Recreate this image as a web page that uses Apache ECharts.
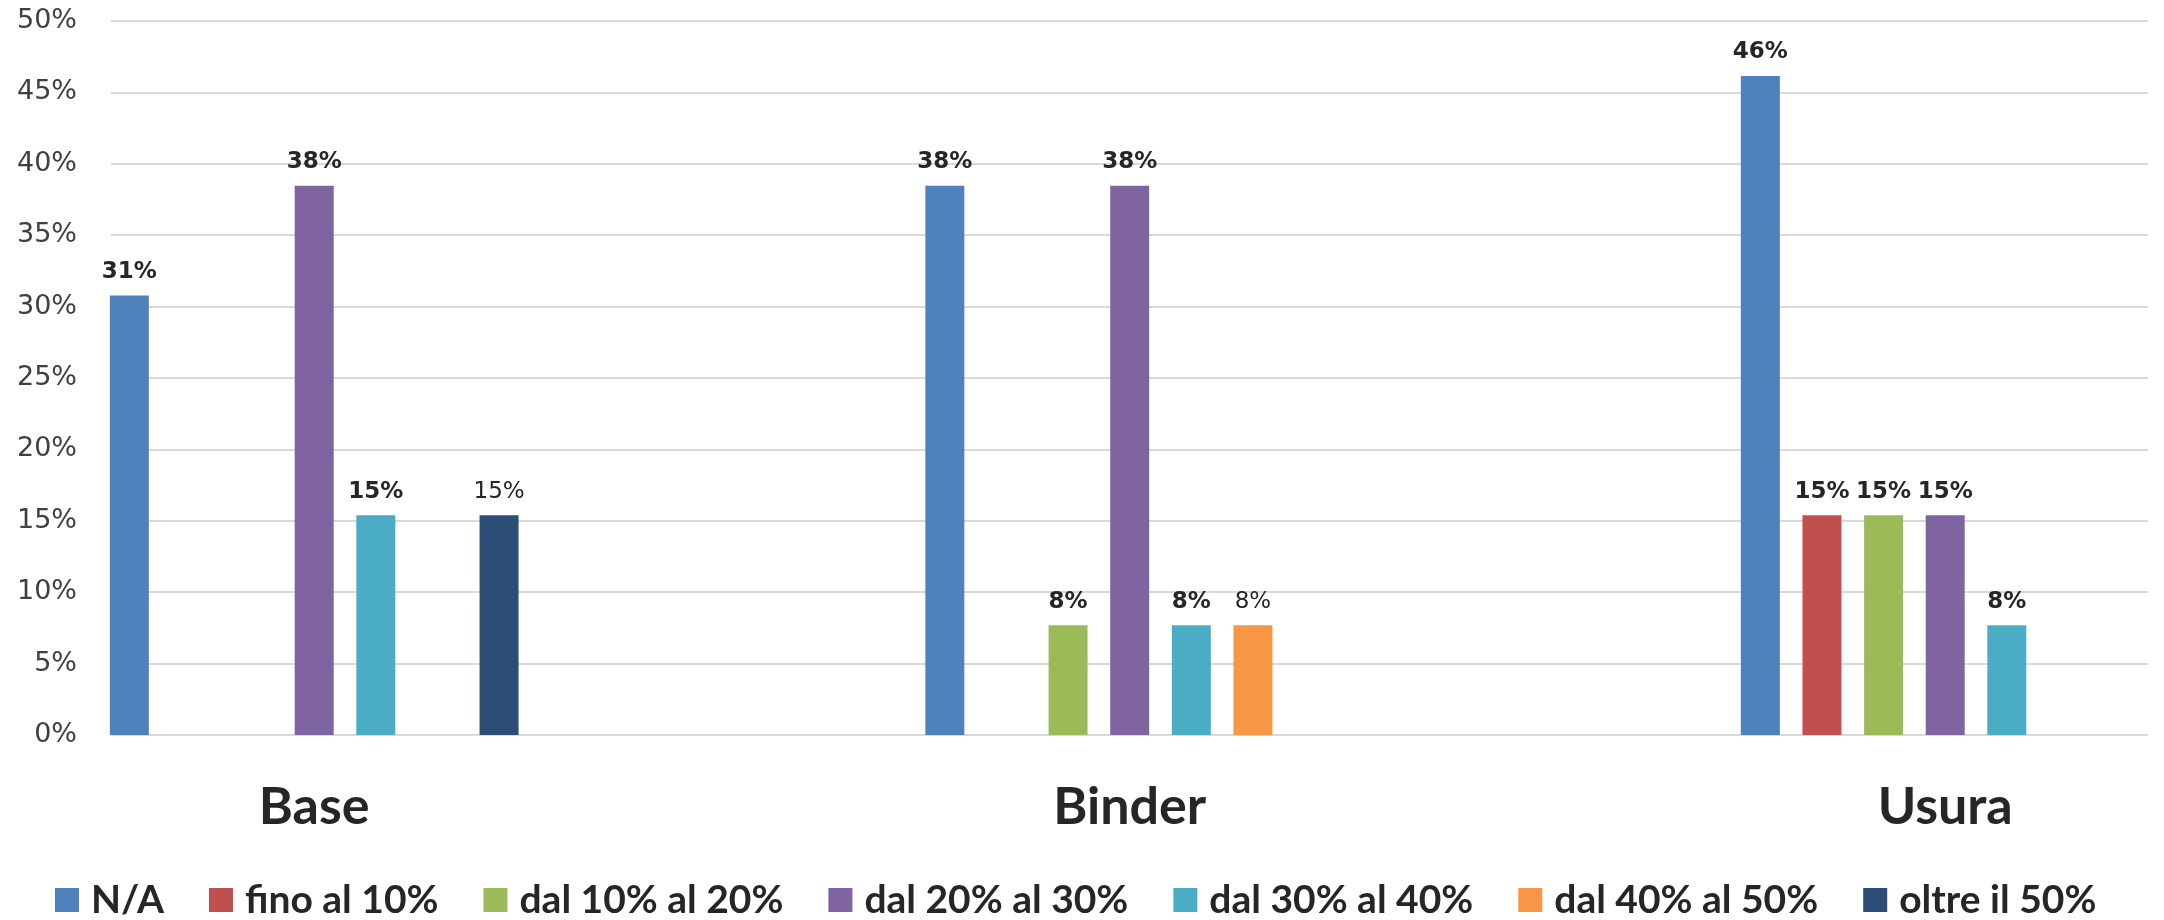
<!DOCTYPE html>
<html>
<head>
<meta charset="utf-8">
<title>Distribuzione per strato</title>
<script src="https://cdn.jsdelivr.net/npm/echarts@6/dist/echarts.min.js"></script>
<style>
  html, body { margin: 0; padding: 0; background: #ffffff; }
  #chart { width: 2164px; height: 920px; }
</style>
</head>
<body>
<div id="chart"></div>
<script>
// Layers (categories) and the answer share per class, in percent
const categories = ['Base', 'Binder', 'Usura'];

const seriesNames = [
  'N/A',
  'fino al 10%',
  'dal 10% al 20%',
  'dal 20% al 30%',
  'dal 30% al 40%',
  'dal 40% al 50%',
  'oltre il 50%'
];

const naValues      = [30.77, 38.46, 46.15];
const fino10Values  = [null, null, 15.38];
const dal10Values   = [null, 7.69, 15.38];
const dal20Values   = [38.46, 38.46, 15.38];
const dal30Values   = [15.38, 7.69, 7.69];
const dal40Values   = [null, 7.69, null];
const oltre50Values = [15.38, null, null];

const yTicks = [0, 5, 10, 15, 20, 25, 30, 35, 40, 45, 50];

const seriesValues = [naValues, fino10Values, dal10Values, dal20Values,
                      dal30Values, dal40Values, oltre50Values];

const colors = ['#4F81BD', '#C0504D', '#9BBB59', '#8064A2', '#4BACC6', '#F79646', '#2C4D75'];
// the last two classes carry regular-weight value labels
const labelWeights = ['bold', 'bold', 'bold', 'bold', 'bold', 'normal', 'normal'];

const PLOT_TOP = 21;
const PLOT_HEIGHT = 714;
const BAND = 815.5;            // width of one category band
const FIRST_CENTER = 314.2;    // centre of the first group

const chart = echarts.init(document.getElementById('chart'), null, { renderer: 'canvas' });

const series = seriesNames.map((name, i) => ({
  name: name,
  type: 'bar',
  xAxisIndex: 1,
  yAxisIndex: 1,
  data: seriesValues[i].map(v => (v === null ? '-' : v)),
  barWidth: 39,
  barGap: '58%',
  itemStyle: { color: colors[i] },
  label: {
    show: true,
    position: 'top',
    distance: 12,
    fontFamily: 'DejaVu Sans',
    fontSize: 23,
    fontWeight: labelWeights[i],
    color: '#262626',
    formatter: p => Math.round(p.value) + '%'
  }
}));

const option = {
  animation: false,
  backgroundColor: '#ffffff',
  color: colors,
  grid: [
    // visible value scale with gridlines
    { left: 111, top: PLOT_TOP, width: 2037, height: PLOT_HEIGHT, outerBoundsMode: 'none' },
    // bar layout grid, wider than the page so groups sit at their centres
    { left: FIRST_CENTER - BAND / 2, top: PLOT_TOP, width: BAND * 3, height: PLOT_HEIGHT,
      outerBoundsMode: 'none' }
  ],
  xAxis: [
    {
      gridIndex: 0, type: 'category', data: categories,
      axisLine: { show: false }, axisTick: { show: false }, axisLabel: { show: false }
    },
    {
      gridIndex: 1, type: 'category', data: categories,
      axisLine: { show: false }, axisTick: { show: false },
      axisLabel: {
        margin: 46,
        fontFamily: 'Lato',
        fontWeight: 'bold',
        fontSize: 52,
        lineHeight: 52,
        color: '#262626'
      }
    }
  ],
  yAxis: [
    {
      gridIndex: 0, type: 'value',
      min: yTicks[0], max: yTicks[yTicks.length - 1], interval: 5,
      axisLine: { show: false }, axisTick: { show: false },
      splitLine: { show: true, lineStyle: { color: '#D9D9D9', width: 2 } },
      axisLabel: {
        margin: 34,
        fontFamily: 'DejaVu Sans',
        fontSize: 27,
        color: '#404040',
        formatter: '{value}%'
      }
    },
    {
      gridIndex: 1, type: 'value',
      min: yTicks[0], max: yTicks[yTicks.length - 1], interval: 5,
      show: false, splitLine: { show: false }
    }
  ],
  legend: {
    data: seriesNames,
    left: 55,
    top: 880,
    padding: 0,
    icon: 'rect',
    itemWidth: 24,
    itemHeight: 24,
    itemGap: 45,
    textStyle: {
      fontFamily: 'Lato',
      fontWeight: 'bold',
      fontSize: 39,
      lineHeight: 40,
      color: '#262626',
      padding: [0, 0, 0, 7]
    }
  },
  series: series
};

chart.setOption(option);
</script>
</body>
</html>
